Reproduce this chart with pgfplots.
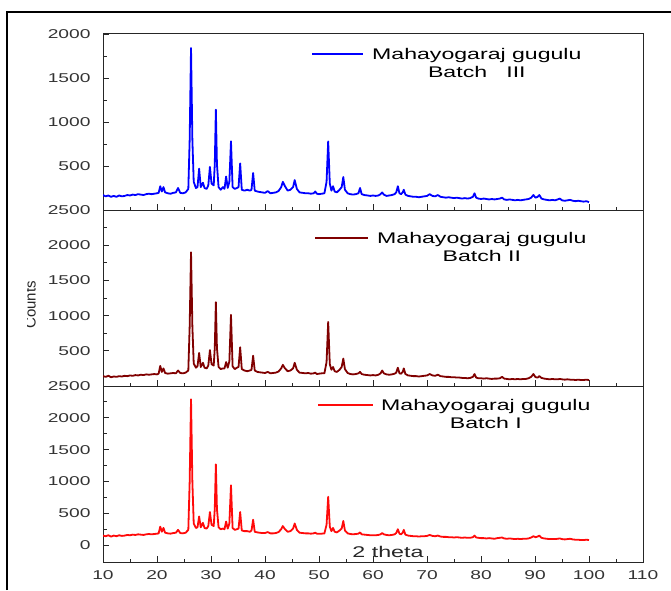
\documentclass[border=0pt]{standalone}
\usepackage{pgfplots}
\pgfplotsset{compat=1.18}
\usepackage{pgfplotstable}
\usepackage{fontspec}
\setmainfont[FakeStretch=1.5]{Liberation Sans}
\newfontfamily\plainsans{Liberation Sans}
\definecolor{darkred}{RGB}{128,0,0}
\definecolor{xrdred}{RGB}{255,10,10}

% 2theta, batch III (b), batch II (d), batch I (r)
\pgfplotstableread{
tt b d r
10.0 170 140 150
10.5 155 130 140
11.0 165 145 155
11.5 150 125 135
12.0 160 135 150
12.5 150 130 140
13.0 165 140 155
13.5 155 135 145
14.0 160 145 150
14.5 170 140 160
15.0 165 150 155
15.5 175 145 165
16.0 170 155 160
16.5 180 150 170
17.0 175 160 165
17.5 170 155 160
18.0 180 165 170
18.5 185 160 175
19.0 180 165 170
19.5 185 170 175
20.0 190 165 180
20.3 195 175 185
20.6 270 285 290
20.9 210 200 210
21.2 260 250 270
21.5 200 185 195
22.0 190 175 185
22.5 185 180 180
23.0 195 185 190
23.5 200 180 195
23.9 250 220 240
24.3 195 185 190
24.8 190 180 185
25.3 200 190 195
25.8 240 220 240
26.05 800 850 1000
26.3 1840 1900 2290
26.55 800 850 1000
26.8 320 320 340
27.2 250 260 270
27.5 260 280 280
27.8 470 470 450
28.1 260 270 280
28.5 310 330 350
28.8 250 260 270
29.2 240 250 260
29.5 280 290 300
29.8 490 510 520
30.1 300 310 320
30.5 280 290 300
30.7 520 540 570
30.9 1140 1190 1270
31.1 520 540 570
31.4 260 270 280
31.8 230 240 250
32.2 260 250 260
32.5 240 250 250
32.8 380 340 370
33.1 250 260 260
33.4 320 350 340
33.7 780 1010 940
34.0 260 280 270
34.4 240 240 240
34.8 250 260 250
35.1 260 270 260
35.4 530 550 520
35.7 230 240 230
36.2 220 220 220
36.7 230 210 220
37.2 220 220 210
37.5 230 230 230
37.8 420 430 400
38.1 220 220 210
38.6 210 200 200
39.0 205 195 195
39.5 200 190 190
40.0 195 185 190
40.5 215 200 205
41.0 190 180 185
41.5 195 185 185
42.0 200 190 190
42.5 215 205 205
43.0 260 250 250
43.3 320 300 300
43.7 270 250 250
44.2 220 210 210
44.7 230 220 220
45.2 260 250 260
45.5 340 330 340
45.9 240 230 240
46.4 200 190 195
47.0 195 185 190
47.5 190 180 185
48.0 190 185 185
48.5 185 175 180
49.0 190 180 185
49.3 210 190 195
49.6 185 170 180
50.0 180 175 180
50.5 185 180 180
51.0 190 180 185
51.4 320 340 320
51.7 780 910 760
52.0 300 310 290
52.3 220 230 220
52.6 270 270 270
52.9 210 210 210
53.3 200 200 200
53.8 230 230 230
54.2 260 270 260
54.5 375 390 380
54.8 230 240 230
55.3 190 185 185
55.8 180 170 175
56.3 175 165 170
56.8 180 170 175
57.3 190 180 180
57.6 250 200 200
57.9 180 170 170
58.4 170 160 165
59.0 165 155 160
59.5 160 150 155
60.0 165 155 155
60.5 160 150 155
61.0 165 160 160
61.4 180 180 170
61.7 200 220 190
62.0 175 180 170
62.5 160 165 160
63.0 165 160 155
63.5 170 165 160
64.0 180 175 170
64.3 200 190 190
64.6 270 260 250
64.9 190 180 180
65.2 180 175 170
65.5 200 200 195
65.7 230 250 240
66.0 175 170 165
66.5 160 150 150
67.0 155 145 145
67.5 150 140 140
68.0 150 140 140
68.5 145 135 135
69.0 150 140 140
69.5 155 145 140
70.0 160 150 145
70.5 180 170 160
71.0 160 150 145
71.5 155 145 140
72.0 170 160 150
72.5 150 140 135
73.0 145 135 130
73.5 140 130 130
74.0 145 130 125
74.5 140 125 125
75.0 135 125 120
75.5 140 120 125
76.0 135 120 120
76.5 130 115 115
77.0 135 115 120
77.5 130 110 115
78.0 135 115 115
78.5 150 130 125
78.8 190 170 150
79.1 140 120 120
79.5 130 110 115
80.0 125 110 110
80.5 130 105 110
81.0 125 110 105
81.5 120 105 110
82.0 125 100 105
82.5 120 105 100
83.0 125 105 110
83.5 130 110 115
83.9 140 130 120
84.3 120 105 105
84.8 115 100 100
85.3 120 95 105
85.8 115 100 100
86.3 110 95 95
86.8 115 100 100
87.3 110 95 95
87.8 115 100 100
88.3 120 100 100
88.8 125 110 105
89.3 140 130 120
89.7 170 170 140
90.1 140 125 125
90.5 150 120 135
90.8 170 140 150
91.2 130 115 115
91.7 120 105 105
92.2 115 100 100
92.7 110 95 95
93.2 115 100 95
93.7 110 95 95
94.2 120 95 100
94.6 130 100 105
95.0 110 95 95
95.5 105 90 90
96.0 110 95 95
96.5 115 90 100
97.0 105 90 90
97.5 100 85 85
98.0 105 90 85
98.5 100 85 80
99.0 95 85 80
99.5 100 90 85
100.0 90 85 80
}\xrd

\pgfplotsset{
  xrdpanel/.style={
    scale only axis, width=540pt, height=176pt,
    anchor=south west,
    xmin=10, xmax=110, xtick={10,20,...,110}, minor x tick num=1,
    minor y tick num=1,
    tick align=inside, xtick pos=left, ytick pos=left,
    major tick length=6pt, minor tick length=3.5pt,
    axis line style={line width=1pt, black!85},
    tick style={line width=0.9pt, black!85},
    tick label style={font=\fontsize{12.8}{14}\selectfont, text=black!80},
    /pgf/number format/assume math mode=true,
    /pgf/number format/1000 sep={},
    yticklabel style={xshift=-9pt},
    xticklabel style={yshift=-5pt},
  },
}

\begin{document}
\begin{tikzpicture}
\useasboundingbox (0pt,0pt) rectangle (671pt,590pt);

% top panel: batch III
\begin{axis}[xrdpanel, at={(103pt,380pt)},
  ymin=0, ymax=2000, ytick={500,1000,1500,2000}, xticklabels={}]
\addplot[blue, line width=1.8pt, line join=round] table[x=tt, y=b] {\xrd};
\end{axis}

% middle panel: batch II
\begin{axis}[xrdpanel, at={(103pt,204pt)},
  ymin=0, ymax=2500, ytick={500,1000,1500,2000,2500}, xticklabels={}]
\addplot[darkred, line width=1.8pt, line join=round] table[x=tt, y=d] {\xrd};
\end{axis}

% bottom panel: batch I
\begin{axis}[xrdpanel, at={(103pt,28pt)},
  ymin=-265, ymax=2500, ytick={0,500,1000,1500,2000,2500}]
\addplot[xrdred, line width=1.8pt, line join=round] table[x=tt, y=r] {\xrd};
\end{axis}

% legends
\draw[blue, line width=1.2pt] (312pt,536pt) -- (363pt,536pt);
\node[anchor=west, align=center, inner sep=0pt, font=\fontsize{15.4}{18}\selectfont]
  at (372pt,527pt) {Mahayogaraj gugulu\\Batch\ \ \ III};
\draw[darkred, line width=1.2pt] (315pt,352pt) -- (368pt,352pt);
\node[anchor=west, align=center, inner sep=0pt, font=\fontsize{15.4}{18}\selectfont]
  at (377pt,343pt) {Mahayogaraj gugulu\\Batch II};
\draw[xrdred, line width=1.2pt] (318pt,185pt) -- (373pt,185pt);
\node[anchor=west, align=center, inner sep=0pt, font=\fontsize{15.4}{18}\selectfont]
  at (381pt,176pt) {Mahayogaraj gugulu\\Batch I};

% axis titles
\node[font=\fontsize{15.5}{18}\selectfont, black!85] at (388pt,38pt) {2 theta};
\begin{scope}
\clip (27pt,200pt) rectangle (60pt,400pt);
\node[rotate=90, anchor=south, inner sep=0pt, font=\plainsans\fontsize{15}{18}\selectfont, black!85]
  at (36pt,285pt) {Counts};
\end{scope}

% frame
\draw[line width=2pt, black] (7pt,0pt) -- (7pt,578pt) -- (671pt,578pt);
\end{tikzpicture}
\end{document}
